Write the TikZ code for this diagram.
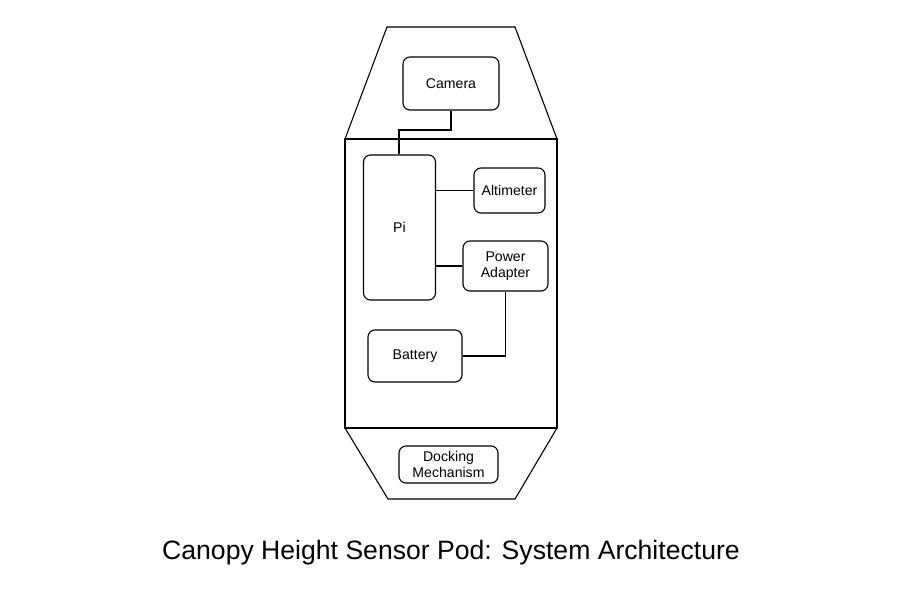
\documentclass[tikz,border=0pt]{standalone}
\usepackage{fontspec}
\setmainfont{Liberation Sans}
\begin{document}
\begin{tikzpicture}[x=1pt,y=-1pt,
  box/.style={draw,rounded corners=7pt,line width=1.1pt,inner sep=0pt,align=center,font=\fontsize{14.1}{16.5}\selectfont},
  shell/.style={draw,line width=1.1pt,line join=miter},
  wire/.style={draw,line width=1.1pt}]
\useasboundingbox[fill=white] (0,0) rectangle (918,594);
% shell
\draw[shell] (345,139) -- (387,27) -- (515,27) -- (557,139);
\draw[shell] (345,139) rectangle (557,428);
\draw[shell] (345,428) -- (388,499) -- (515,499) -- (557,428);
% boxes
\node[box,minimum width=96pt,minimum height=53pt] (cam) at (451,83.5) {Camera};
\node[box,minimum width=72pt,minimum height=145pt] (pi) at (399.5,227.5) {Pi};
\node[box,minimum width=71pt,minimum height=45pt] (alt) at (509.5,190.5) {Altimeter};
\node[box,minimum width=85pt,minimum height=50pt] (pwr) at (505.5,266) {Power\\Adapter};
\node[box,minimum width=94pt,minimum height=52pt] (bat) at (415,356) {Battery};
\node[box,minimum width=99pt,minimum height=37pt] (dock) at (448.5,464.5) {Docking\\Mechanism};
% wires
\coordinate (c1) at (451,130);
\coordinate (c2) at (399,130);
\draw[wire] (cam.south) -- (c1) -- (c2) -- (pi.north -| c2);
\draw[wire] (pi.east |- alt.west) -- (alt.west);
\draw[wire] (pi.east |- pwr.west) -- (pwr.west);
\draw[wire] (bat.east) -| (pwr.south);
% title
\node[font=\fontsize{26.6}{30}\selectfont] (title) at (451,553) {Canopy Height Sensor Pod: System Architecture};
\end{tikzpicture}
\end{document}
